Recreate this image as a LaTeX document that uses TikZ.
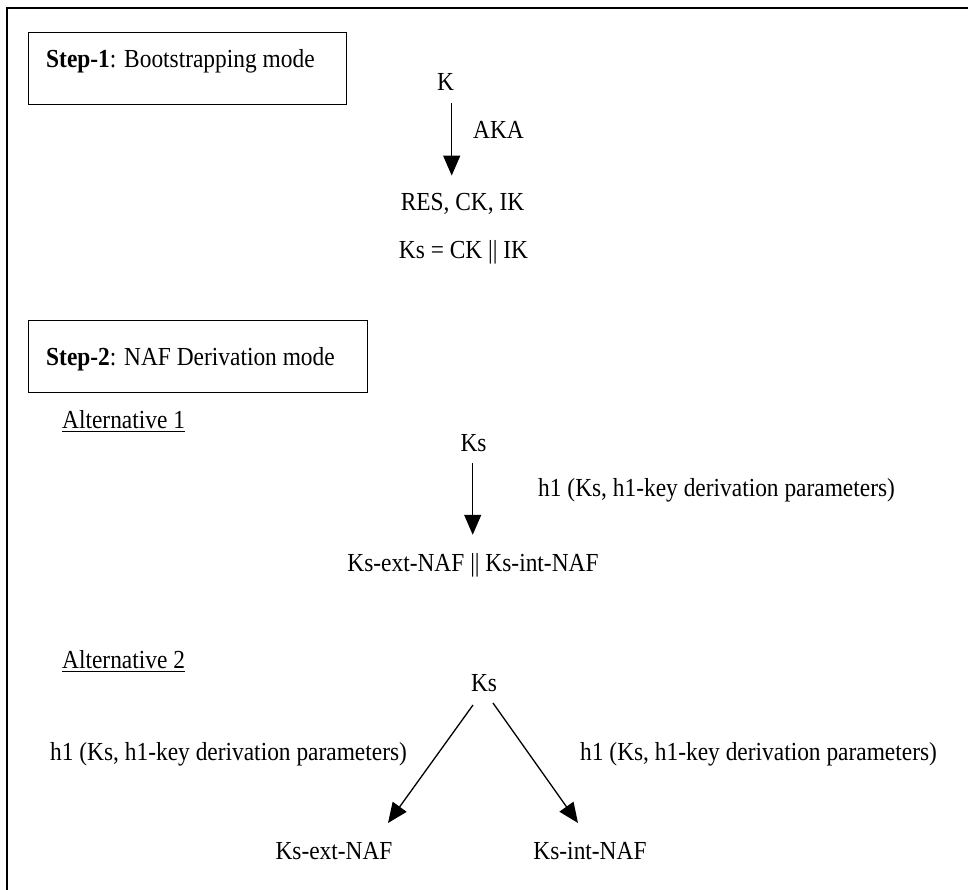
\documentclass[tikz,border=0pt]{standalone}
\usepackage{fontspec}
\setmainfont{Liberation Serif}[FakeStretch=0.9]
\usetikzlibrary{arrows.meta}
\begin{document}
\begin{tikzpicture}[x=1pt,y=-1pt,
  lbl/.style={inner sep=0pt, anchor=base, font=\fontsize{26}{30}\selectfont},
  lblw/.style={lbl, anchor=base west},
  stepbox/.style={draw, line width=1.3pt, minimum width=#1, minimum height=72pt, anchor=north west, inner sep=0pt},
  arr/.style={line width=1.3pt, -{Triangle[width=17pt,length=20pt]}},
  uline/.style={line width=1pt},
  frame/.style={line width=2pt}
  ]
\useasboundingbox (0,0) rectangle (968,890);
% outer frame (only top and left edges visible)
\draw[frame] (7,890) -- (7,8) -- (968,8);

% Step 1
\node[stepbox=318pt] (box1) at (28,32) {};
\node[lblw] (s1) at (46,68) {\textbf{Step-1}: Bootstrapping mode};
\node[lbl] (K) at (445.5,90.7) {K};
\node[lblw] (aka) at (473,139) {AKA};
\node[lbl] (res) at (462.5,211) {RES, CK, IK};
\node[lbl] (ks0) at (463.5,259) {Ks = CK || IK};
\draw[arr, shorten >=18pt] ([xshift=6.2pt,yshift=-12.3pt]K.base) -- ([xshift=6.2pt]K.base |- res.north);

% Step 2
\node[stepbox=339pt] (box2) at (28,320) {};
\node[lblw] (s2) at (46,365) {\textbf{Step-2}: NAF Derivation mode};

% Alternative 1
\node[lblw] (alt1) at (62,428) {Alternative 1};
\draw[uline] ([yshift=-3pt]alt1.base west) -- ([yshift=-3pt]alt1.base east);
\node[lbl] (ks1) at (473.5,451) {Ks};
\node[lbl] (naf) at (473,571) {Ks-ext-NAF || Ks-int-NAF};
\node[lblw] (h1a) at (538,496) {h1 (Ks, h1-key derivation parameters)};
\draw[arr, shorten >=18pt] ([xshift=-0.8pt,yshift=-12pt]ks1.base) -- ([xshift=-0.8pt]ks1.base |- naf.north);

% Alternative 2
\node[lblw] (alt2) at (62,668) {Alternative 2};
\draw[uline] ([yshift=-3pt]alt2.base west) -- ([yshift=-3pt]alt2.base east);
\node[lbl] (ks2) at (484,691) {Ks};
\node[lbl] (ext) at (334,859) {Ks-ext-NAF};
\node[lbl] (int) at (590,859) {Ks-int-NAF};
\node[lblw] (h1l) at (50,760) {h1 (Ks, h1-key derivation parameters)};
\node[lblw] (h1r) at (580,760) {h1 (Ks, h1-key derivation parameters)};
\draw[arr] ([xshift=-11pt,yshift=-14pt]ks2.base) -- ([xshift=54pt,yshift=36pt]ext.base);
\draw[arr] ([xshift=9pt,yshift=-12pt]ks2.base) -- ([xshift=-12pt,yshift=36pt]int.base);
\end{tikzpicture}
\end{document}
